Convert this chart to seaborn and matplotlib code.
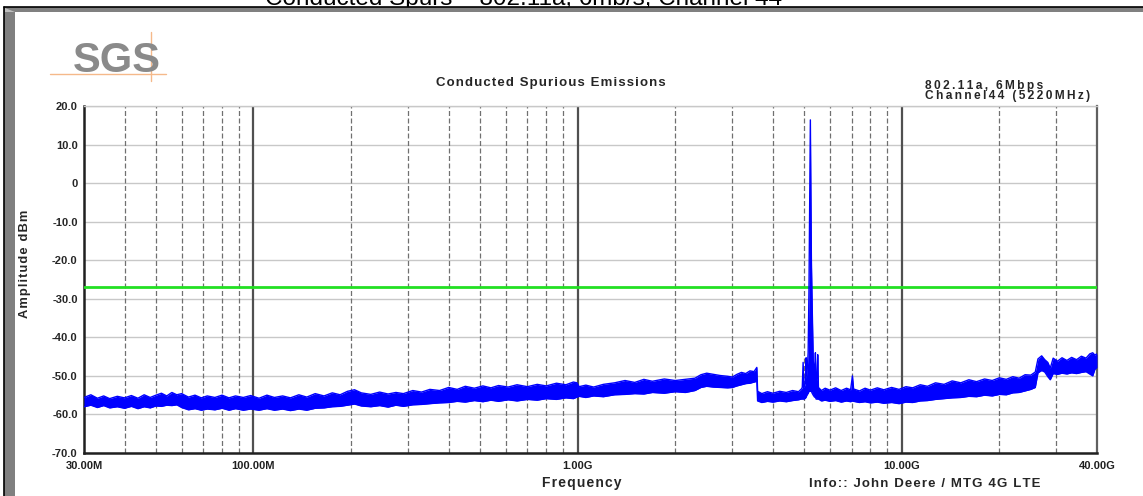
import numpy as np
import pandas as pd
import matplotlib
matplotlib.use("Agg")
import matplotlib.pyplot as plt
import seaborn as sns
from matplotlib.patches import Rectangle, Polygon
from matplotlib.lines import Line2D

# ---------------- data ----------------
# envelope of the measured trace: frequency (MHz), upper and lower edge (dBm)
freq_mhz = [30, 31.5, 33, 34.5, 36, 38, 40, 42, 44, 46, 48, 50,
            52, 54, 56, 58, 60, 63, 66, 69, 72, 76, 80, 84,
            88, 93, 98, 104, 110, 116, 123, 130, 138, 146, 155, 165,
            175, 185, 195, 205, 215, 230, 245, 260, 275, 290, 310, 330,
            350, 375, 400, 425, 450, 480, 510, 540, 570, 610, 650, 700,
            750, 800, 860, 920, 970, 995, 1010, 1060, 1120, 1200, 1300, 1400,
            1500, 1600, 1700, 1850, 2000, 2150, 2300, 2400, 2500, 2620, 2750, 2900,
            3000, 3100, 3200, 3300, 3400, 3500, 3570, 3590, 3700, 3850, 4000, 4200,
            4400, 4600, 4800, 4900, 4930, 4960, 4990, 5040, 5067, 5095, 5140, 5170,
            5200, 5214, 5222, 5235, 5260, 5290, 5330, 5380, 5412, 5440, 5480, 5502,
            5530, 5650, 5800, 6000, 6250, 6500, 6750, 6950, 7040, 7100, 7400, 7700,
            8000, 8400, 8800, 9300, 9800, 10300, 10800, 11400, 12000, 12700, 13500, 14300,
            15200, 16100, 17000, 18000, 19000, 20000, 21000, 22000, 23000, 24000, 25000, 25800,
            26300, 27000, 27600, 28200, 28700, 29300, 30200, 31200, 32300, 33400, 34600, 35800,
            37000, 38000, 38800, 39400, 40000]
upper_dbm = [-55.6, -54.9, -55.8, -55.2, -55.9, -55.3, -55.7, -55.1, -55.8, -54.9, -55.6, -55.0,
             -54.5, -55.2, -54.3, -54.9, -54.6, -55.5, -55.0, -55.7, -55.2, -55.6, -55.0, -55.7,
             -55.2, -55.6, -55.1, -55.8, -55.0, -55.6, -55.2, -55.7, -54.9, -55.5, -54.6, -55.2,
             -54.4, -54.9, -54.0, -53.6, -54.4, -54.8, -54.2, -54.7, -54.3, -54.6, -53.8, -54.2,
             -53.5, -53.8, -53.0, -53.5, -52.7, -53.2, -52.6, -53.1, -52.5, -52.9, -52.3, -52.8,
             -52.2, -52.6, -51.9, -52.3, -51.6, -51.8, -52.8, -52.4, -52.9, -52.2, -51.8, -51.2,
             -51.7, -50.9, -51.4, -50.8, -51.2, -50.9, -50.6, -49.7, -49.3, -49.6, -49.9, -50.1,
             -50.3, -49.6, -49.1, -49.4, -48.7, -48.9, -47.8, -54.0, -54.6, -54.1, -54.5, -54.0,
             -54.3, -53.8, -54.1, -53.4, -53.0, -46.5, -53.0, -52.0, -45.3, -50.0, -44.0, -28.0,
             -2.0, 12.0, 16.4, 3.0, -20.0, -32.0, -46.0, -50.0, -44.0, -52.0, -50.0, -44.5,
             -53.0, -53.8, -53.2, -53.7, -53.1, -53.8, -53.2, -53.6, -50.0, -53.4, -53.9, -53.2,
             -53.7, -53.1, -53.6, -53.0, -53.5, -52.8, -53.1, -52.3, -52.7, -51.8, -52.2, -51.3,
             -51.8, -51.0, -51.5, -50.8, -51.2, -50.5, -50.9, -50.2, -50.6, -49.7, -49.8, -49.0,
             -45.6, -44.8, -45.8, -46.5, -48.0, -45.4, -46.2, -45.3, -46.0, -45.2, -45.8, -44.9,
             -45.4, -44.3, -44.0, -44.6, -44.3]
lower_dbm = [-58.0, -57.6, -58.2, -57.7, -58.3, -58.0, -58.4, -57.9, -58.5, -58.0, -58.3, -57.8,
             -57.9, -57.6, -57.7, -57.5, -58.2, -58.8, -58.5, -58.9, -58.6, -58.8, -58.4, -58.9,
             -58.5, -58.9, -58.6, -58.9, -58.5, -58.9, -58.6, -59.0, -58.6, -58.9, -58.4, -58.3,
             -58.0, -57.9, -57.6, -57.3, -57.8, -58.0, -57.7, -58.1, -57.6, -57.9, -57.5, -57.4,
             -57.2, -57.0, -56.9, -56.6, -56.8, -56.4, -56.7, -56.3, -56.6, -56.2, -56.5, -56.1,
             -56.3, -55.9, -56.1, -55.7, -55.9, -55.5, -55.3, -55.6, -55.2, -55.4, -54.9, -54.8,
             -54.6, -54.7, -54.3, -54.5, -54.1, -54.3, -53.8, -53.0, -52.7, -52.9, -53.0, -53.1,
             -53.0, -52.6, -52.3, -52.0, -51.9, -51.6, -51.4, -56.5, -56.9, -56.6, -56.8, -56.5,
             -56.7, -56.4, -56.2, -56.0, -56.0, -56.0, -56.0, -55.8, -55.5, -55.0, -54.5, -54.0,
             -54.0, -54.0, -54.0, -54.0, -54.0, -54.5, -55.0, -55.5, -55.5, -56.0, -56.0, -56.0,
             -56.0, -56.5, -56.3, -56.6, -56.4, -56.8, -56.5, -56.7, -56.5, -56.6, -56.9, -56.7,
             -57.0, -56.8, -57.1, -56.9, -57.2, -56.8, -56.9, -56.5, -56.4, -56.1, -55.9, -55.7,
             -55.6, -55.3, -55.4, -55.0, -55.2, -54.8, -54.9, -54.4, -54.3, -53.9, -53.5, -53.0,
             -49.2, -48.6, -49.0, -50.2, -51.0, -49.4, -49.6, -49.3, -49.5, -49.2, -49.4, -49.1,
             -48.9, -49.5, -50.0, -48.3, -47.8]
limit_dbm = -27.0
peak_label = "Channel44 (5220MHz)"

x_major = [30, 100, 1000, 10000, 40000]
x_major_labels = ["30.00M", "100.00M", "1.00G", "10.00G", "40.00G"]
y_major = [20, 10, 0, -10, -20, -30, -40, -50, -60, -70]
y_major_labels = ["20.0", "10.0", "0", "-10.0", "-20.0", "-30.0", "-40.0", "-50.0", "-60.0", "-70.0"]

df = pd.DataFrame({"freq": freq_mhz, "upper": upper_dbm, "lower": lower_dbm})

# ---------------- style ----------------
sns.set_style("white")
plt.rcParams["font.family"] = ["Liberation Sans", "DejaVu Sans"]
plt.rcParams["font.weight"] = "bold"

W, H = 1143, 496
fig = plt.figure(figsize=(W / 100, H / 100), dpi=100)
fig.patch.set_facecolor("white")


def fx(px):
    return px / W


def fy(py):
    return 1 - py / H


def spaced(s, sep="\u2009"):
    # letter spacing as in the instrument software
    return sep.join(list(s))


ax = fig.add_axes([fx(84), fy(453), fx(1097) - fx(84), fy(106) - fy(453)])
ax.set_facecolor("white")
ax.set_xscale("log")
ax.set_xlim(30, 40000)
ax.set_ylim(-70, 20)

# grid lines
for yv in y_major:
    ax.axhline(yv, color="#c8c8c8", lw=1.0, zorder=1)
decades = [100, 1000, 10000]
minor_x = []
for d in [10, 100, 1000, 10000]:
    for m in range(2, 10):
        v = d * m
        if 30 < v < 40000 and v not in decades:
            minor_x.append(v)
for xv in minor_x:
    ax.axvline(xv, color="#707070", lw=0.9, ls=(0, (4, 2)), zorder=1)
for xv in decades:
    ax.axvline(xv, color="#505050", lw=1.6, zorder=1)

# limit line
ax.axhline(limit_dbm, color="#22e022", lw=2.0, zorder=3)

# trace
ax.fill_between(df["freq"], df["lower"], df["upper"], color="#0000ff", lw=0, zorder=4)
sns.lineplot(data=df, x="freq", y="upper", ax=ax, color="#0000ff", lw=1.0, zorder=5,
             estimator=None, sort=False)
sns.lineplot(data=df, x="freq", y="lower", ax=ax, color="#0000ff", lw=1.0, zorder=5,
             estimator=None, sort=False)
ax.set_xlabel("")
ax.set_ylabel("")

# ticks
ax.set_xticks(x_major)
ax.set_xticklabels(x_major_labels, fontsize=8.0, fontweight="bold")
ax.set_xticks(minor_x + decades, minor=True)
ax.xaxis.set_minor_formatter(matplotlib.ticker.NullFormatter())
ax.tick_params(axis="x", which="major", direction="out", length=0, pad=6, colors="#202020")
ax.tick_params(axis="x", which="minor", direction="out", length=4, width=1, color="#404040")
ax.set_yticks(y_major)
ax.set_yticklabels(y_major_labels, fontsize=8.0, fontweight="bold")
ax.set_yticks(np.arange(-70, 21, 2), minor=True)
ax.tick_params(axis="y", which="major", direction="inout", length=9, width=1.2, color="#202020", pad=0)
ax.tick_params(axis="y", which="minor", direction="inout", length=5, width=1.0, color="#202020")

for s in ["left", "bottom"]:
    ax.spines[s].set_color("#202020")
    ax.spines[s].set_linewidth(1.8)
ax.spines["right"].set_color("#606060")
ax.spines["right"].set_linewidth(1.6)
ax.spines["top"].set_color("#c8c8c8")
ax.spines["top"].set_linewidth(1.0)

# texts
hs = "\u200a"
fig.text(fx(551), fy(86), spaced("Conducted Spurious Emissions", hs), ha="center", va="baseline",
         fontsize=9.5, fontweight="bold")
fig.text(fx(925), fy(89.5), spaced("802.11a, 6Mbps"), ha="left", va="baseline", fontsize=8.6,
         fontweight="bold")
fig.text(fx(925), fy(99), spaced(peak_label), ha="left", va="baseline", fontsize=8.6,
         fontweight="bold")
fig.text(fx(25), fy(264), spaced("Amplitude dBm", hs), ha="center", va="center", rotation=90,
         fontsize=9.3, fontweight="bold")
fig.text(fx(582), fy(483), spaced("Frequency", hs), ha="center", va="center", fontsize=10,
         fontweight="bold")
fig.text(fx(925), fy(484), spaced("Info:: John Deere / MTG 4G LTE", hs), ha="center", va="center",
         fontsize=9.5, fontweight="bold")

# cut-off page title at the very top
fig.text(fx(524), fy(4.5), "Conducted Spurs \u2013 802.11a, 6mb/s, Channel 44", ha="center",
         va="baseline", fontsize=17.5, fontweight="normal", color="black", zorder=1)

# frame: black top line, grey band, left grey bar
fig.patches.append(Rectangle((fx(4), fy(12)), 1 - fx(4), fy(7) - fy(12), transform=fig.transFigure,
                             facecolor="#808080", edgecolor="none", zorder=2))
fig.lines.append(Line2D([fx(4), 1], [fy(7), fy(7)], transform=fig.transFigure, color="black", lw=1.2, zorder=3))
fig.patches.append(Rectangle((fx(4), 0), fx(15) - fx(4), fy(8), transform=fig.transFigure,
                             facecolor="#808080", edgecolor="none", zorder=2))
fig.lines.append(Line2D([fx(4), fx(4)], [0, fy(7)], transform=fig.transFigure, color="black", lw=1.2, zorder=3))
fig.patches.append(Polygon([[fx(5), fy(8)], [fx(15), fy(12)], [fx(5), fy(12)]], closed=True,
                           transform=fig.transFigure, facecolor="#c0c0c0", edgecolor="none", zorder=3))

# SGS logo
fig.text(fx(73), fy(72), "SGS", ha="left", va="baseline", fontsize=30, fontweight="bold",
         color="#8a8a8a")
fig.lines.append(Line2D([fx(50), fx(166)], [fy(74), fy(74)], transform=fig.transFigure,
                        color="#f5b98a", lw=1.0))
fig.lines.append(Line2D([fx(151), fx(151)], [fy(32), fy(81)], transform=fig.transFigure,
                        color="#f5b98a", lw=1.0))

fig.savefig("out.png", dpi=100)
